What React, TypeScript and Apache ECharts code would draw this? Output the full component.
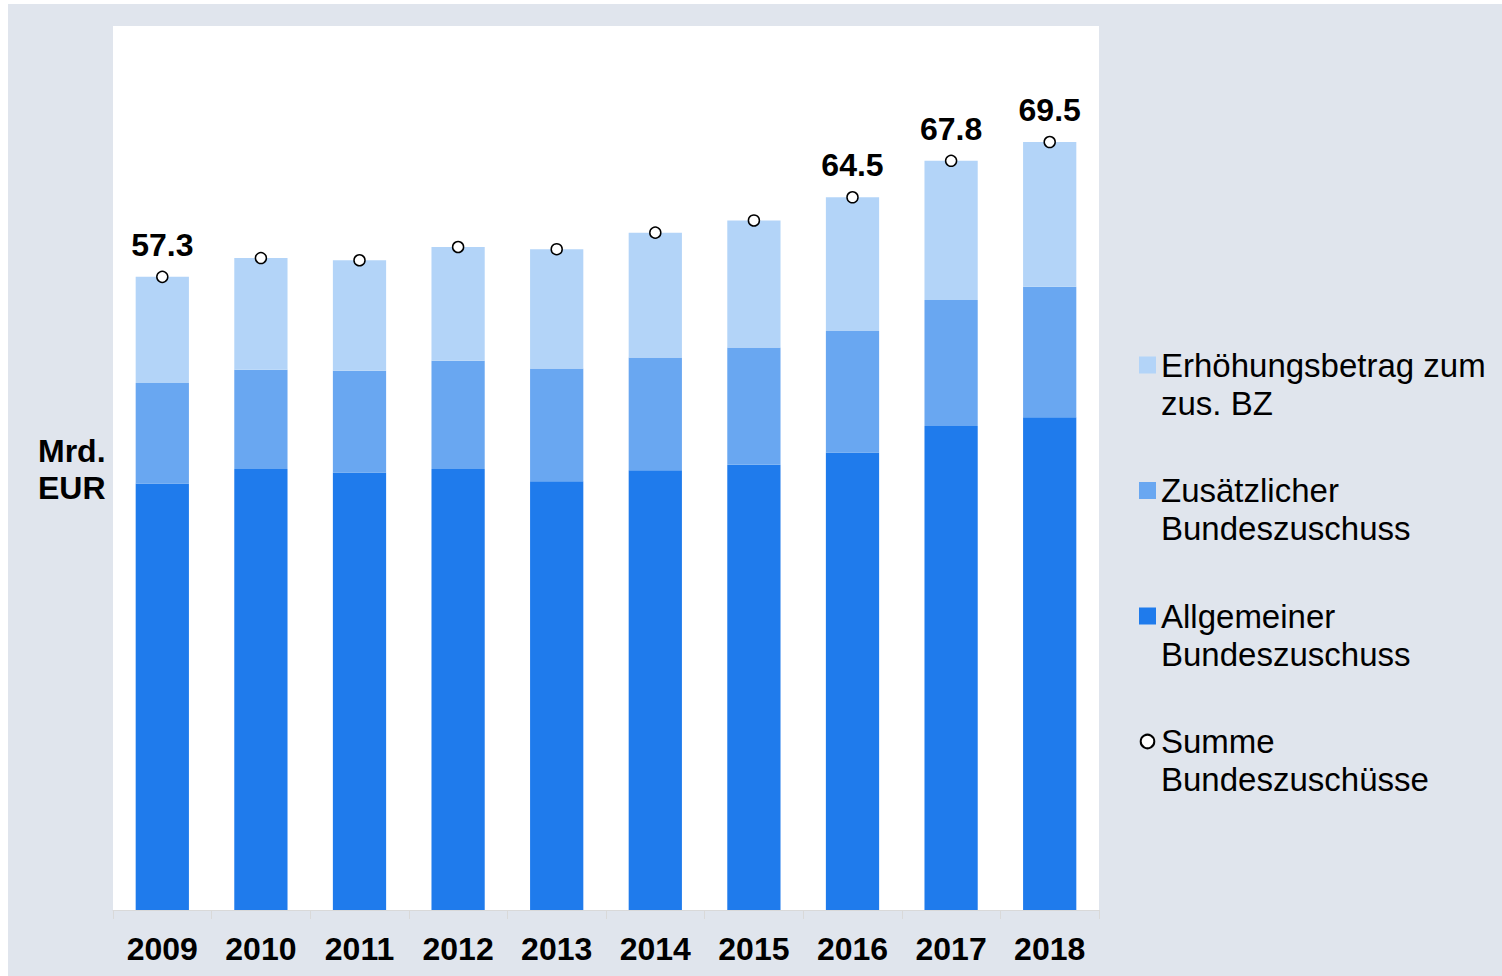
import React, { useEffect, useRef } from "react";
import * as echarts from "echarts";

const years = ["2009", "2010", "2011", "2012", "2013", "2014", "2015", "2016", "2017", "2018"];
const allgemeiner = [38.6, 39.9, 39.6, 39.9, 38.8, 39.8, 40.3, 41.4, 43.8, 44.6];
const zusaetzlicher = [9.1, 9.0, 9.2, 9.8, 10.2, 10.2, 10.6, 11.0, 11.4, 11.8];
const erhoehung = [9.6, 10.1, 10.0, 10.3, 10.8, 11.3, 11.5, 12.1, 12.6, 13.1];
const summe = [57.3, 59.0, 58.8, 60.0, 59.8, 61.3, 62.4, 64.5, 67.8, 69.5];
const labeledYears = ["2009", "2016", "2017", "2018"];

const N_ERH = "Erhöhungsbetrag zum zus. BZ";
const N_ZUS = "Zusätzlicher Bundeszuschuss";
const N_ALLG = "Allgemeiner Bundeszuschuss";
const N_SUM = "Summe Bundeszuschüsse";

const legendLabels: Record<string, string> = {
  [N_ERH]: "Erhöhungsbetrag zum\nzus. BZ",
  [N_ZUS]: "Zusätzlicher\nBundeszuschuss",
  [N_ALLG]: "Allgemeiner\nBundeszuschuss",
  [N_SUM]: "Summe\nBundeszuschüsse",
};

const FONT = '"Liberation Sans", Arial, Helvetica, sans-serif';

export default function App() {
  const ref = useRef<HTMLDivElement>(null);

  useEffect(() => {
    if (!ref.current) return;
    const chart = echarts.init(ref.current, undefined, { renderer: "svg" });
    chart.setOption({
      animation: false,
      backgroundColor: "#e0e5ed",
      textStyle: { fontFamily: FONT },
      grid: {
        left: 105,
        right: 403,
        top: 22,
        bottom: 66,
        show: true,
        backgroundColor: "#ffffff",
        borderWidth: 0,
      },
      xAxis: {
        type: "category",
        data: years,
        axisLine: { lineStyle: { color: "#d9d9d9", width: 1 } },
        axisTick: { show: true, length: 9, lineStyle: { color: "#d9d9d9" } },
        axisLabel: {
          fontSize: 32,
          fontWeight: "bold",
          color: "#000",
          fontFamily: FONT,
          margin: 23,
        },
      },
      yAxis: { type: "value", min: 0, max: 80, show: false },
      legend: {
        orient: "vertical",
        left: 1131,
        top: 304,
        padding: 0,
        itemWidth: 17,
        itemHeight: 17,
        itemGap: 11.5,
        selectedMode: false,
        data: [
          { name: N_ERH, icon: "rect" },
          { name: N_ZUS, icon: "rect" },
          { name: N_ALLG, icon: "rect" },
          { name: N_SUM },
        ],
        formatter: (name: string) => "\n" + (legendLabels[name] || name),
        textStyle: {
          fontSize: 33,
          fontFamily: FONT,
          color: "#000",
          lineHeight: 38,
        },
      },
      graphic: [
        {
          type: "text",
          left: 30,
          top: 428,
          style: {
            text: "Mrd.\nEUR",
            font: `bold 32px ${FONT}`,
            fill: "#000",
            lineHeight: 37,
          },
        },
      ],
      series: [
        {
          name: N_ALLG,
          type: "bar",
          stack: "total",
          barWidth: "54%",
          itemStyle: { color: "#1f7bec" },
          data: allgemeiner,
        },
        {
          name: N_ZUS,
          type: "bar",
          stack: "total",
          itemStyle: { color: "#69a7f1" },
          data: zusaetzlicher,
        },
        {
          name: N_ERH,
          type: "bar",
          stack: "total",
          itemStyle: { color: "#b3d4f8" },
          data: erhoehung,
        },
        {
          name: N_SUM,
          type: "line",
          symbol: "circle",
          symbolSize: 11,
          showSymbol: true,
          z: 10,
          lineStyle: { opacity: 0, width: 0 },
          itemStyle: { color: "#ffffff", borderColor: "#000000", borderWidth: 1.5 },
          label: {
            position: "top",
            distance: 10,
            fontSize: 32,
            fontWeight: "bold",
            color: "#000",
            fontFamily: FONT,
            formatter: (p: any) => Number(p.value).toFixed(1),
          },
          data: summe.map((v, i) => ({
            value: v,
            label: { show: labeledYears.includes(years[i]) },
          })),
        },
      ],
    });
    return () => chart.dispose();
  }, []);

  return (
    <div
      ref={ref}
      style={{ position: "absolute", left: 8, top: 4, width: 1494, height: 972 }}
    />
  );
}
